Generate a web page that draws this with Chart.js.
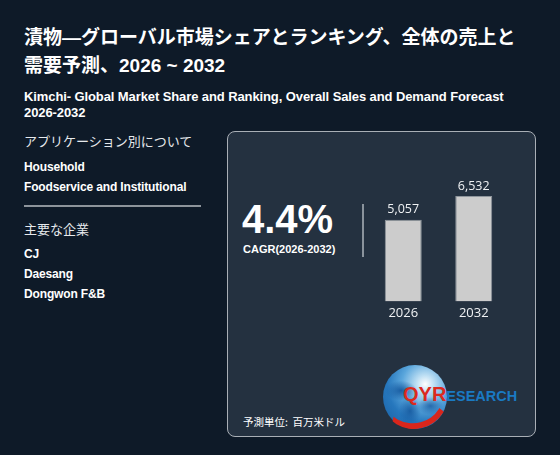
<!DOCTYPE html>
<html lang="ja">
<head>
<meta charset="utf-8">
<script src="https://cdn.jsdelivr.net/npm/chart.js@4.4.1/dist/chart.umd.min.js"></script>
<style>
  html, body { margin: 0; padding: 0; }
  body {
    width: 560px; height: 455px; overflow: hidden; position: relative;
    background: #0e1a28; color: #fff;
    font-family: "Liberation Sans", "Noto Sans CJK JP", sans-serif;
  }
  .abs { position: absolute; white-space: nowrap; }
  #title { left: 24px; top: 24px; font-size: 19px; font-weight: bold; line-height: 28px; }
  #subtitle { left: 24px; top: 89px; font-size: 13px; font-weight: bold; line-height: 15.5px; letter-spacing: -0.1px; }
  .head { font-size: 13px; color: #e6e9ec; font-family: "Noto Sans CJK JP", sans-serif; }
  .item { font-size: 12px; font-weight: bold; letter-spacing: -0.15px; line-height: 20px; }
  #rule { left: 24px; top: 205px; width: 177px; height: 2px; background: #8d949b; }
  #panel {
    left: 227px; top: 131px; width: 307px; height: 304px;
    background: #243140; border: 1px solid #a9afb6; border-radius: 8px;
  }
  #cagr { left: 242px; top: 197px; font-size: 40px; font-weight: bold; }
  #cagrLbl { left: 243px; top: 243px; font-size: 11px; font-weight: bold; }
  #divider { left: 362px; top: 204px; width: 2px; height: 53px; background: #8a939c; }
  #unit { left: 243px; top: 414px; font-size: 10.5px; font-family: "Noto Sans CJK JP", sans-serif; }
  #chartBox { left: 368px; top: 180px; width: 141px; height: 145px; }
  #globe {
    left: 383px; top: 365px; width: 64px; height: 64px; border-radius: 50%;
    background:
      radial-gradient(ellipse 16px 10px at 28% 40%, rgba(22,90,160,0.95) 0%, rgba(22,90,160,0) 100%),
      radial-gradient(ellipse 11px 15px at 42% 72%, rgba(22,90,160,0.9) 0%, rgba(22,90,160,0) 100%),
      radial-gradient(ellipse 13px 9px at 74% 64%, rgba(22,90,160,0.8) 0%, rgba(22,90,160,0) 100%),
      radial-gradient(circle at 66% 30%, #ffffff 0%, #bfe0f4 14%, #5aa6dc 38%, #2677bd 62%, #185c9e 100%);
  }
  #swoosh {
    left: 380px; top: 361px; width: 68px; height: 68px; border-radius: 50%;
    border-bottom: 6px solid #d9261c; border-left: 3px solid transparent; border-right: 5px solid transparent;
    box-sizing: border-box; transform: rotate(-14deg);
  }
  #logo { left: 403px; top: 384px; font-weight: bold; line-height: 1; }
  #logo .r { color: #dc2a1e; font-size: 20px; }
  #logo .b { color: #1a7ac2; font-size: 14.5px; }
</style>
</head>
<body>
<div class="abs" id="title">漬物—グローバル市場シェアとランキング、全体の売上と<br>需要予測、2026 ~ 2032</div>
<div class="abs" id="subtitle">Kimchi- Global Market Share and Ranking, Overall Sales and Demand Forecast<br>2026-2032</div>

<div class="abs head" style="left:24px; top:131px;">アプリケーション別について</div>
<div class="abs item" id="apps" style="left:24px; top:157px;"></div>
<div class="abs" id="rule"></div>
<div class="abs head" style="left:24px; top:219px;">主要な企業</div>
<div class="abs item" id="firms" style="left:24px; top:244px;"></div>

<div class="abs" id="panel"></div>
<div class="abs" id="cagr"></div>
<div class="abs" id="cagrLbl"></div>
<div class="abs" id="divider"></div>
<div class="abs" id="chartBox"><canvas id="salesChart"></canvas></div>
<div class="abs" id="globe"></div>
<div class="abs" id="swoosh"></div>
<div class="abs" id="logo"><span class="r">QYR</span><span class="b">ESEARCH</span></div>
<div class="abs" id="unit">予測単位:&nbsp; 百万米ドル</div>

<script>
// values
const years = ['2026', '2032'];
const sales = [5057, 6532];
const cagr = '4.4%';
const cagrPeriod = 'CAGR(2026-2032)';
const applications = ['Household', 'Foodservice and Institutional'];
const companies = ['CJ', 'Daesang', 'Dongwon F&B'];

document.getElementById('apps').innerHTML = applications.join('<br>');
document.getElementById('firms').innerHTML = companies.join('<br>');
document.getElementById('cagr').textContent = cagr;
document.getElementById('cagrLbl').textContent = cagrPeriod;

// number above each bar
const valueLabels = {
    id: 'valueLabels',
    afterDatasetsDraw(chart) {
        const ctx = chart.ctx;
        const meta = chart.getDatasetMeta(0);
        ctx.save();
        ctx.font = '12.5px "Open Sans", sans-serif';
        ctx.fillStyle = '#f0f2f4';
        ctx.textAlign = 'center';
        ctx.textBaseline = 'middle';
        meta.data.forEach((bar, i) => {
            ctx.fillText(sales[i].toLocaleString('en-US'), bar.x, bar.y - 10);
        });
        ctx.restore();
    }
};

new Chart(document.getElementById('salesChart').getContext('2d'), {
    type: 'bar',
    data: {
        labels: years,
        datasets: [{
            data: sales,
            backgroundColor: '#cccccc',
            borderColor: '#8e959c',
            borderWidth: 1,
            categoryPercentage: 1,
            barPercentage: 0.525
        }]
    },
    options: {
        responsive: true,
        maintainAspectRatio: false,
        animation: false,
        layout: { padding: { top: 10, left: 0, right: 0, bottom: 0 } },
        plugins: { legend: { display: false }, tooltip: { enabled: false } },
        scales: {
            x: {
                grid: { display: false, drawTicks: false },
                border: { display: false },
                ticks: { color: '#f0f2f4', padding: 4, font: { size: 13, family: '"Open Sans", sans-serif' } }
            },
            y: { display: false, min: 0, max: 6900 }
        }
    },
    plugins: [valueLabels]
});
</script>
</body>
</html>
